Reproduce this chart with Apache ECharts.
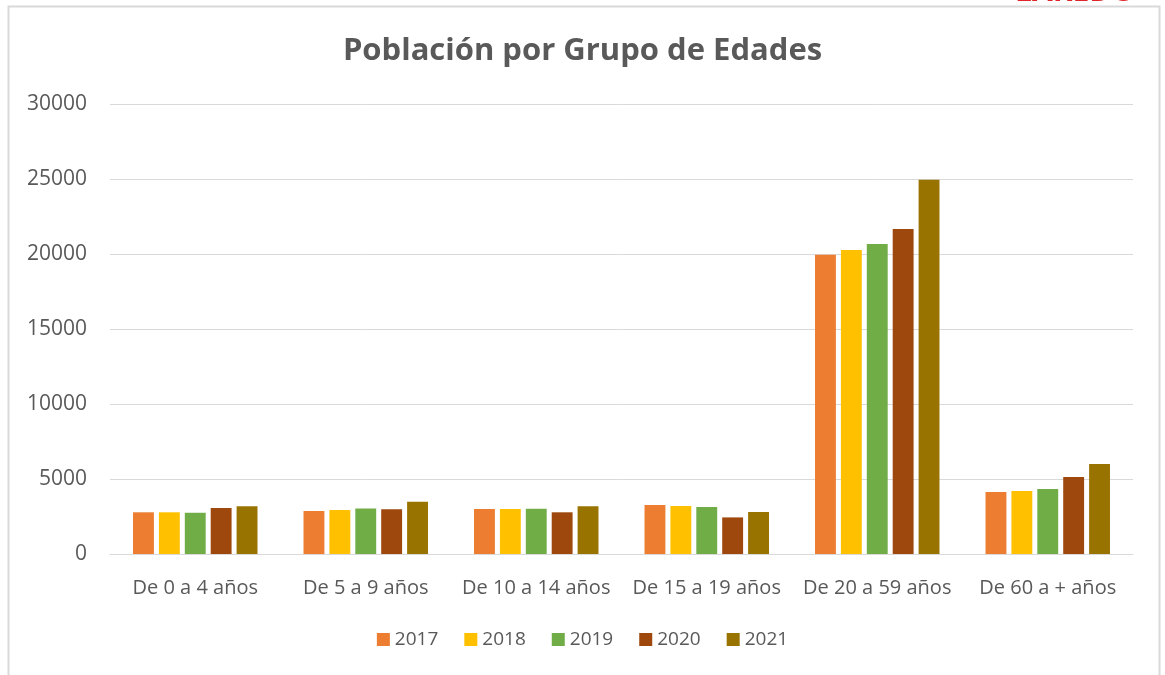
<!DOCTYPE html>
<html>
<head>
<meta charset="utf-8">
<script src="https://cdn.jsdelivr.net/npm/echarts@6/dist/echarts.min.js"></script>
<style>
    html, body { margin: 0; padding: 0; background: #fff; }
    #chart { width: 1165px; height: 675px; }
</style>
</head>
<body>
<div id="chart"></div>
<script>
var categories = ['De 0 a 4 años', 'De 5 a 9 años', 'De 10 a 14 años', 'De 15 a 19 años', 'De 20 a 59 años', 'De 60 a + años'];
var years = ['2017', '2018', '2019', '2020', '2021'];
var colors = ['#ed7d31', '#ffc000', '#70ad47', '#9e480e', '#997300'];
var v2017 = [2780, 2870, 3000, 3270, 19950, 4130];
var v2018 = [2780, 2930, 3000, 3200, 20270, 4200];
var v2019 = [2750, 3040, 3020, 3130, 20670, 4330];
var v2020 = [3070, 2980, 2780, 2440, 21670, 5130];
var v2021 = [3180, 3490, 3180, 2800, 24950, 6000];
var values = [v2017, v2018, v2019, v2020, v2021];

var font = '"Open Sans", sans-serif';
var chart = echarts.init(document.getElementById('chart'));

chart.setOption({
    animation: false,
    textStyle: { fontFamily: font },
    title: {
        text: 'Población por Grupo de Edades',
        left: 'center',
        top: 31,
        textStyle: { fontSize: 31, fontWeight: 'bold', color: '#595959', fontFamily: font }
    },
    graphic: [
        {
            type: 'rect',
            shape: { x: 8.5, y: 6.5, width: 1151, height: 700 },
            style: { fill: 'none', stroke: '#d9d9d9', lineWidth: 2 },
            silent: true
        },
        {
            // logo text cut off by the top edge of the page
            type: 'text',
            x: 1015,
            y: 7,
            style: {
                text: 'LAREDO',
                fill: '#e0242a',
                font: 'bold 30px ' + font,
                verticalAlign: 'bottom'
            },
            silent: true
        }
    ],
    legend: {
        top: 625,
        left: 'center',
        itemWidth: 13,
        itemHeight: 13,
        itemGap: 26,
        icon: 'rect',
        textStyle: { fontSize: 19, color: '#595959', fontFamily: font },
        data: years
    },
    grid: {
        left: 110,
        right: 32,
        top: 104,
        bottom: 121
    },
    xAxis: {
        type: 'category',
        data: categories,
        axisLine: { lineStyle: { color: '#d9d9d9', width: 1 } },
        axisTick: { show: false },
        axisLabel: { interval: 0, fontSize: 20, color: '#595959', margin: 24, fontFamily: font }
    },
    yAxis: {
        type: 'value',
        min: 0,
        max: 30000,
        interval: 5000,
        axisLine: { show: false },
        axisTick: { show: false },
        splitLine: { lineStyle: { color: '#d9d9d9', width: 1 } },
        axisLabel: {
            fontSize: 21,
            color: '#595959',
            margin: 23,
            fontFamily: font,
            formatter: function (v) { return String(v); }
        }
    },
    series: years.map((year, i) => ({
        name: year,
        type: 'bar',
        barCategoryGap: '27%',
        barGap: '24%',
        itemStyle: { color: colors[i] },
        data: values[i]
    }))
});
</script>
</body>
</html>
